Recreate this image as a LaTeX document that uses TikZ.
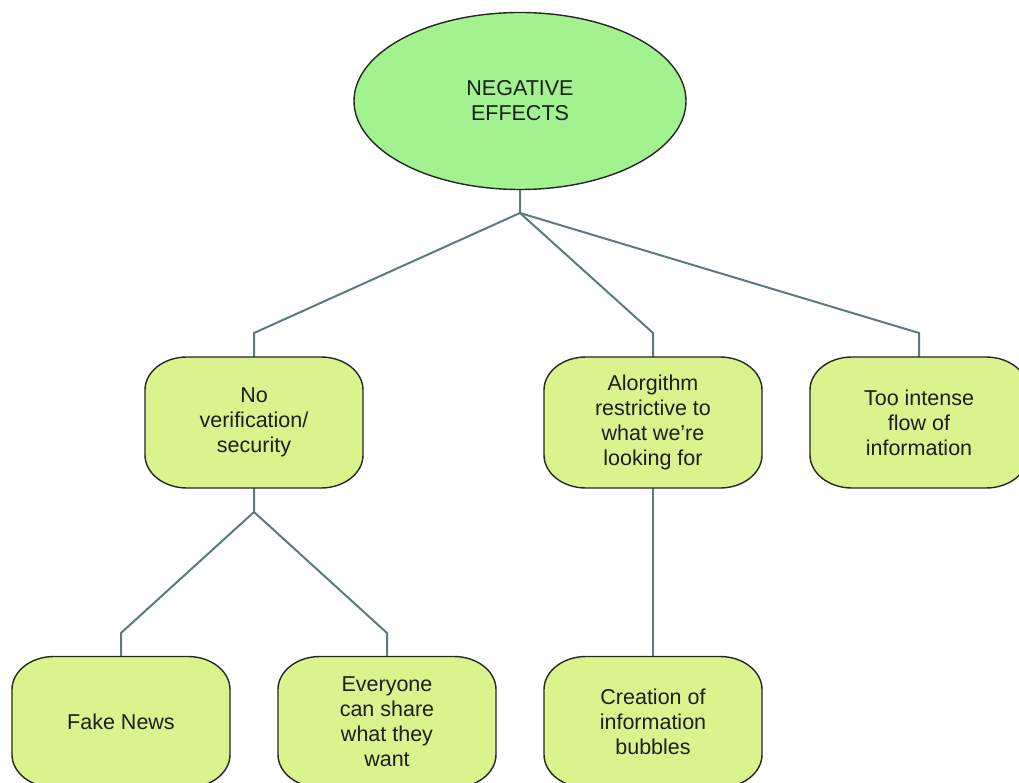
\documentclass[tikz,border=0pt]{standalone}
\usepackage{fontspec}
\setmainfont{Liberation Sans}
\usetikzlibrary{shapes.geometric}
\definecolor{topfill}{HTML}{A2F28F}
\definecolor{boxfill}{HTML}{D9F48D}
\definecolor{linkcol}{HTML}{5C7B7E}
\definecolor{edgecol}{HTML}{262626}
\definecolor{txtcol}{HTML}{1E1E1E}
\pgfdeclarelayer{links}
\pgfdeclarelayer{shapes}
\pgfsetlayers{links,shapes,main}
\tikzset{
  rootnode/.style={ellipse, draw=edgecol, line width=1.4pt, fill=topfill,
    minimum width=332pt, minimum height=177pt, inner sep=0pt,
    align=center, text=txtcol, font=\fontsize{21.5}{25}\selectfont},
  itemtext/.style={rectangle, minimum width=218pt, minimum height=131pt,
    inner sep=0pt, align=center, text=txtcol, font=\fontsize{21.5}{25}\selectfont},
  boxshape/.style={draw=edgecol, line width=1.4pt, fill=boxfill},
  link/.style={draw=linkcol, line width=2pt}
}
% box with elliptical corners (42 wide, 33 high) around a centre x,y
\newcommand\softbox[4]{%
  \begin{pgfonlayer}{shapes}
  \path[boxshape] (#2-67,#3-65.5) -- (#2+67,#3-65.5)
    arc[start angle=-90,end angle=0,x radius=42,y radius=33]
    -- (#2+109,#3+32.5)
    arc[start angle=0,end angle=90,x radius=42,y radius=33]
    -- (#2-67,#3+65.5)
    arc[start angle=90,end angle=180,x radius=42,y radius=33]
    -- (#2-109,#3-32.5)
    arc[start angle=180,end angle=270,x radius=42,y radius=33]
    -- cycle;
  \end{pgfonlayer}
  \node[itemtext] (#1) at (#2,#3) {#4};}
\begin{document}
\begin{tikzpicture}[x=1pt,y=-1pt]
\useasboundingbox (0,0) rectangle (1019,783);
\clip (0,0) rectangle (1019,783);
\begin{pgfonlayer}{links}
\fill[white] (0,0) rectangle (1019,783);
\end{pgfonlayer}

\node[rootnode] (root) at (520,101) {NEGATIVE\\EFFECTS};
\softbox{noverif}{254}{422.5}{No\\verification/\\security}
\softbox{algo}{653}{422.5}{Alorgithm\\restrictive to\\what we're\\looking for}
\softbox{flow}{919}{422.5}{Too intense\\flow of\\information}
\softbox{fake}{121}{722}{Fake News}
\softbox{share}{387}{722}{Everyone\\can share\\what they\\want}
\softbox{bubbles}{653}{722}{Creation of\\information\\bubbles}

% branch points of the tree
\coordinate (j0) at (520,213);
\coordinate (k1) at (254,333);
\coordinate (k2) at (653,333);
\coordinate (k3) at (919,333);
\coordinate (j1) at (254,512);
\coordinate (m1) at (121,633);
\coordinate (m2) at (387,633);

\begin{pgfonlayer}{links}
\draw[link] (root.south) -- (j0) -- (k1) -- (noverif.north);
\draw[link] (j0) -- (k2) -- (algo.north);
\draw[link] (j0) -- (k3) -- (flow.north);
\draw[link] (noverif.south) -- (j1) -- (m1) -- (fake.north);
\draw[link] (j1) -- (m2) -- (share.north);
\draw[link] (algo.south) -- (bubbles.north);
\end{pgfonlayer}
\end{tikzpicture}
\end{document}
